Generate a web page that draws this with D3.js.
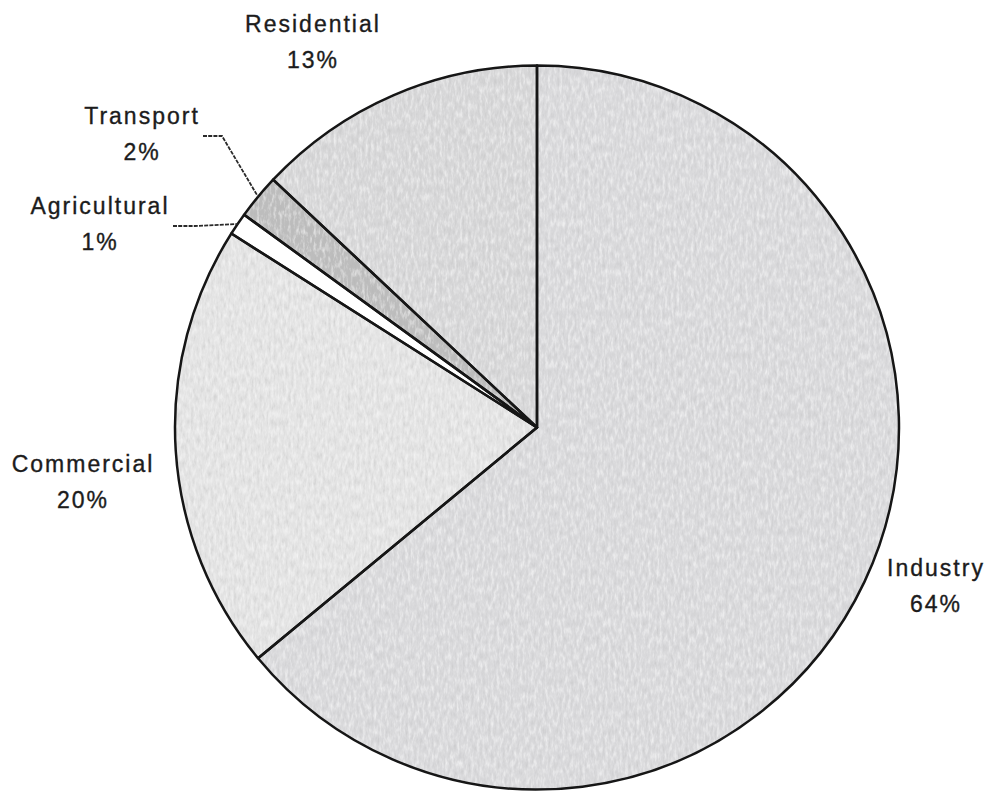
<!DOCTYPE html>
<html>
<head>
<meta charset="utf-8">
<script src="https://cdn.jsdelivr.net/npm/d3@7"></script>
<style>
  html, body { margin: 0; padding: 0; background: #ffffff; }
  svg { display: block; }
  text { font-family: "Liberation Sans", Arial, sans-serif; fill: #1c1c1c; }
</style>
</head>
<body>
<svg id="chart" width="987" height="792"></svg>
<script>
// Energy use by sector (share of total, %)
const categories = ["Industry", "Commercial", "Agricultural", "Transport", "Residential"];
const shares = [64, 20, 1, 2, 13];
const labels = ["64%", "20%", "1%", "2%", "13%"];

// Slice fills, in category order
const fills = ["#d9d9db", "#e3e3e3", "#ffffff", "#bdbdbd", "#d7d7d8"];

// Label anchors (centre of the two-line label, first baseline)
const labelPos = {
  Industry:     { x: 936, y: 576 },
  Commercial:   { x: 83,  y: 472 },
  Agricultural: { x: 100, y: 214 },
  Transport:    { x: 142, y: 124 },
  Residential:  { x: 313, y: 32 }
};
// Leader line start points for the thin slices
const leaderStart = {
  Agricultural: { x: 173, y: 226, elbow: 195 },
  Transport:    { x: 203, y: 136, elbow: 222 }
};

const width = 987, height = 792;
const cx = 537, cy = 427.5, R = 362;

const svg = d3.select("#chart");

// soft mottled grain on the slice fills
const defs = svg.append("defs");
const grain = defs.append("filter").attr("id", "grain")
  .attr("x", 0).attr("y", 0).attr("width", 1).attr("height", 1);
grain.append("feTurbulence").attr("type", "fractalNoise")
  .attr("baseFrequency", "0.35 0.12").attr("numOctaves", 3).attr("seed", 7).attr("result", "noise");
// light blotches
grain.append("feColorMatrix").attr("in", "noise").attr("type", "matrix")
  .attr("values", "0 0 0 0 1  0 0 0 0 1  0 0 0 0 1  0 0 0 1.2 -0.55").attr("result", "light");
// darker specks
grain.append("feColorMatrix").attr("in", "noise").attr("type", "matrix")
  .attr("values", "0 0 0 0 0.45  0 0 0 0 0.45  0 0 0 0 0.45  0 0 0 -1.0 0.42").attr("result", "dark");
grain.append("feComposite").attr("in", "light").attr("in2", "SourceGraphic").attr("operator", "in").attr("result", "lightC");
grain.append("feComposite").attr("in", "dark").attr("in2", "SourceGraphic").attr("operator", "in").attr("result", "darkC");
const merge = grain.append("feMerge");
merge.append("feMergeNode").attr("in", "SourceGraphic");
merge.append("feMergeNode").attr("in", "lightC");
merge.append("feMergeNode").attr("in", "darkC");

const data = categories.map((c, i) => ({ category: c, value: shares[i], label: labels[i], fill: fills[i] }));

const pie = d3.pie().value(d => d.value).sort(null).startAngle(0).endAngle(2 * Math.PI);
const arcs = pie(data);

const arc = d3.arc().innerRadius(0).outerRadius(R);

const g = svg.append("g").attr("transform", `translate(${cx},${cy})`);

g.selectAll("path.fill")
  .data(arcs)
  .join("path")
  .attr("class", "fill")
  .attr("d", arc)
  .attr("fill", d => d.data.fill)
  .attr("filter", d => d.data.fill === "#ffffff" ? null : "url(#grain)");

g.selectAll("path.edge")
  .data(arcs)
  .join("path")
  .attr("class", "edge")
  .attr("d", arc)
  .attr("fill", "none")
  .attr("stroke", "#161616")
  .attr("stroke-width", 2.5)
  .attr("stroke-linejoin", "round");

// leader lines for the small slices
arcs.filter(d => leaderStart[d.data.category]).forEach(d => {
  const s = leaderStart[d.data.category];
  const mid = (d.startAngle + d.endAngle) / 2;
  const ex = cx + R * Math.sin(mid), ey = cy - R * Math.cos(mid);
  svg.append("path")
    .attr("d", `M${s.x},${s.y}L${s.elbow},${s.y}L${ex},${ey}`)
    .attr("fill", "none")
    .attr("stroke", "#2a2a2a")
    .attr("stroke-width", 1.8)
    .attr("stroke-dasharray", "4 1.2");
});

// category labels
const lab = svg.append("g");
data.forEach(d => {
  const p = labelPos[d.category];
  const t = lab.append("text")
    .attr("text-anchor", "middle")
    .attr("font-size", 23)
    .attr("letter-spacing", 2)
    .attr("stroke", "#1c1c1c")
    .attr("stroke-width", 0.35);
  t.append("tspan").attr("x", p.x).attr("y", p.y).text(d.category);
  t.append("tspan").attr("x", p.x).attr("y", p.y + 36).text(d.label);
});
</script>
</body>
</html>
